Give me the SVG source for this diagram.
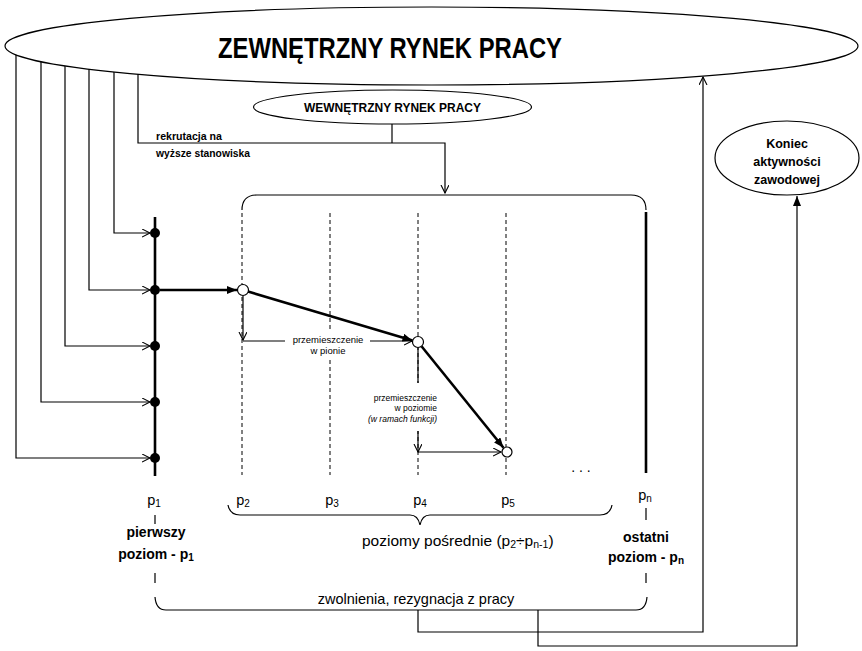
<svg xmlns="http://www.w3.org/2000/svg" width="862" height="651" viewBox="0 0 862 651">
<defs>
<style>
.ln{stroke:#000;stroke-width:1.2;fill:none}
.thk{stroke:#000;stroke-width:2.6;fill:none}
.dash{stroke:#000;stroke-width:1;stroke-dasharray:4 3;fill:none}
.node{fill:#fff;stroke:#000;stroke-width:1.2}
.t{font-family:"Liberation Sans",Arial,sans-serif;fill:#000}
.b{font-weight:bold}
.dot{fill:#000}
.oc{fill:#fff;stroke:#000;stroke-width:1.2}
</style>
<marker id="open" markerUnits="userSpaceOnUse" markerWidth="10" markerHeight="10" refX="8" refY="4" orient="auto">
<path d="M0,0 L8,4 L0,8" fill="none" stroke="#000" stroke-width="1.1"/>
</marker>
<marker id="fill" markerUnits="userSpaceOnUse" markerWidth="12" markerHeight="10" refX="10" refY="4" orient="auto">
<path d="M0,0 L10,4 L0,8 z" fill="#000"/>
</marker>
</defs>
<rect width="862" height="651" fill="#fff"/>

<g id="connectors">
<path class="ln" d="M16,50 V458 H150" marker-end="url(#open)"/>
<path class="ln" d="M41,55 V402 H150" marker-end="url(#open)"/>
<path class="ln" d="M65,58 V346 H150" marker-end="url(#open)"/>
<path class="ln" d="M89,62 V290 H150" marker-end="url(#open)"/>
<path class="ln" d="M114,65 V233 H150" marker-end="url(#open)"/>
<path class="ln" d="M138,68 V143 H445 V193" marker-end="url(#open)"/>
<path class="ln" d="M392,120 V143"/>
<path class="ln" d="M242,210 Q242,195 257,195 H631 Q646,195 646,210"/>
<path class="dash" d="M242,213 V475 M330,213 V475 M418,213 V475 M506,213 V475"/>
<path class="thk" d="M646,212 V473" stroke-width="3"/>
<path class="thk" d="M155,217 V476" stroke-width="3"/>
<path class="thk" d="M160,290 H237" marker-end="url(#fill)"/>
<path class="thk" d="M248,291.6 L412.5,340.4" marker-end="url(#fill)"/>
<path class="thk" d="M421.5,346.3 L503.5,447.7" marker-end="url(#fill)"/>
<path class="ln" d="M243,296 V340" marker-end="url(#open)"/>
<path class="ln" d="M243,341 H412" marker-end="url(#open)"/>
<path class="ln" d="M418,348 V452" marker-end="url(#open)"/>
<path class="ln" d="M418,452 H501" marker-end="url(#open)"/>
<path class="ln" d="M155,515 V524 M646,508 V520 M155,573 V583 M646,573 V583"/>
<path class="ln" d="M228,505 Q230,515 240,515 H410 Q418,515 420,525 Q422,515 430,515 H600 Q610,515 612,505"/>
<path class="ln" d="M155,597 Q156,610 166,610 H636 Q646,610 647,597"/>
<path class="ln" d="M418,610 V632 H703 V77" marker-end="url(#open)"/>
<path class="ln" d="M538,610 V646 H797 V196" marker-end="url(#fill)"/>
</g>

<g id="zewnetrzny">
<ellipse class="node" cx="431.5" cy="46" rx="426.5" ry="39"/>
<text class="t b" x="218" y="58" font-size="30" textLength="344" lengthAdjust="spacingAndGlyphs">ZEWNĘTRZNY RYNEK PRACY</text>
</g>

<g id="wewnetrzny">
<ellipse class="node" cx="392.5" cy="107" rx="139" ry="17"/>
<text class="t b" x="304" y="112" font-size="12.5" textLength="177" lengthAdjust="spacingAndGlyphs">WEWNĘTRZNY RYNEK PRACY</text>
</g>

<g id="rekrutacja">
<text class="t b" x="156" y="140" font-size="10.5" textLength="66" lengthAdjust="spacingAndGlyphs">rekrutacja na</text>
<text class="t b" x="156" y="157" font-size="10.5" textLength="94" lengthAdjust="spacingAndGlyphs">wyższe stanowiska</text>
</g>

<g id="koniec">
<ellipse class="node" cx="787" cy="158" rx="72" ry="37"/>
<text class="t b" x="787" y="148" font-size="12.5" text-anchor="middle">Koniec</text>
<text class="t b" x="787" y="166" font-size="12.5" text-anchor="middle">aktywności</text>
<text class="t b" x="787" y="184" font-size="12.5" text-anchor="middle">zawodowej</text>
</g>

<g id="poziom1">
<circle class="dot" cx="155" cy="233" r="5"/>
<circle class="dot" cx="155" cy="290" r="5"/>
<circle class="dot" cx="155" cy="346" r="5"/>
<circle class="dot" cx="155" cy="402" r="5"/>
<circle class="dot" cx="155" cy="458" r="5"/>
</g>

<g id="stanowiska">
<circle class="oc" cx="243" cy="290" r="5.5"/>
<circle class="oc" cx="418" cy="342" r="5.5"/>
<circle class="oc" cx="507" cy="452" r="5"/>
</g>

<g id="pion">
<rect x="285" y="331" width="85" height="28" fill="#fff"/>
<text class="t" x="328" y="343" font-size="9.5" text-anchor="middle">przemieszczenie</text>
<text class="t" x="328" y="354" font-size="9.5" text-anchor="middle">w pionie</text>
</g>

<g id="poziom">
<rect x="360" y="383" width="80" height="48" fill="#fff"/>
<text class="t" x="437" y="401" font-size="8.5" text-anchor="end">przemieszczenie</text>
<text class="t" x="437" y="411" font-size="8.5" text-anchor="end">w poziomie</text>
<text class="t" x="437" y="422" font-size="8.5" text-anchor="end" font-style="italic">(w ramach funkcji)</text>
</g>

<g id="labels">
<text class="t" x="581" y="472" font-size="14" text-anchor="middle">. . .</text>
<text class="t" x="154" y="505" font-size="14.5" text-anchor="middle">p<tspan font-size="10" dy="2">1</tspan></text>
<text class="t" x="243" y="505" font-size="14.5" text-anchor="middle">p<tspan font-size="10" dy="2">2</tspan></text>
<text class="t" x="332" y="505" font-size="14.5" text-anchor="middle">p<tspan font-size="10" dy="2">3</tspan></text>
<text class="t" x="420" y="505" font-size="14.5" text-anchor="middle">p<tspan font-size="10" dy="2">4</tspan></text>
<text class="t" x="508" y="505" font-size="14.5" text-anchor="middle">p<tspan font-size="10" dy="2">5</tspan></text>
<text class="t" x="645" y="500" font-size="14.5" text-anchor="middle">p<tspan font-size="10" dy="2">n</tspan></text>
<text class="t" x="362" y="546" font-size="15.5">poziomy pośrednie (p<tspan font-size="10.5" dy="2">2</tspan><tspan dy="-2">÷p</tspan><tspan font-size="10.5" dy="2">n-1</tspan><tspan dy="-2">)</tspan></text>
<text class="t b" x="156" y="537" font-size="14" text-anchor="middle">pierwszy</text>
<text class="t b" x="156" y="559" font-size="14" text-anchor="middle">poziom - p<tspan font-size="10" dy="2">1</tspan></text>
<text class="t b" x="646" y="542" font-size="14" text-anchor="middle">ostatni</text>
<text class="t b" x="646" y="562" font-size="14" text-anchor="middle">poziom - p<tspan font-size="10" dy="2">n</tspan></text>
<text class="t" x="416" y="604" font-size="14.5" text-anchor="middle">zwolnienia, rezygnacja z pracy</text>
</g>
</svg>
